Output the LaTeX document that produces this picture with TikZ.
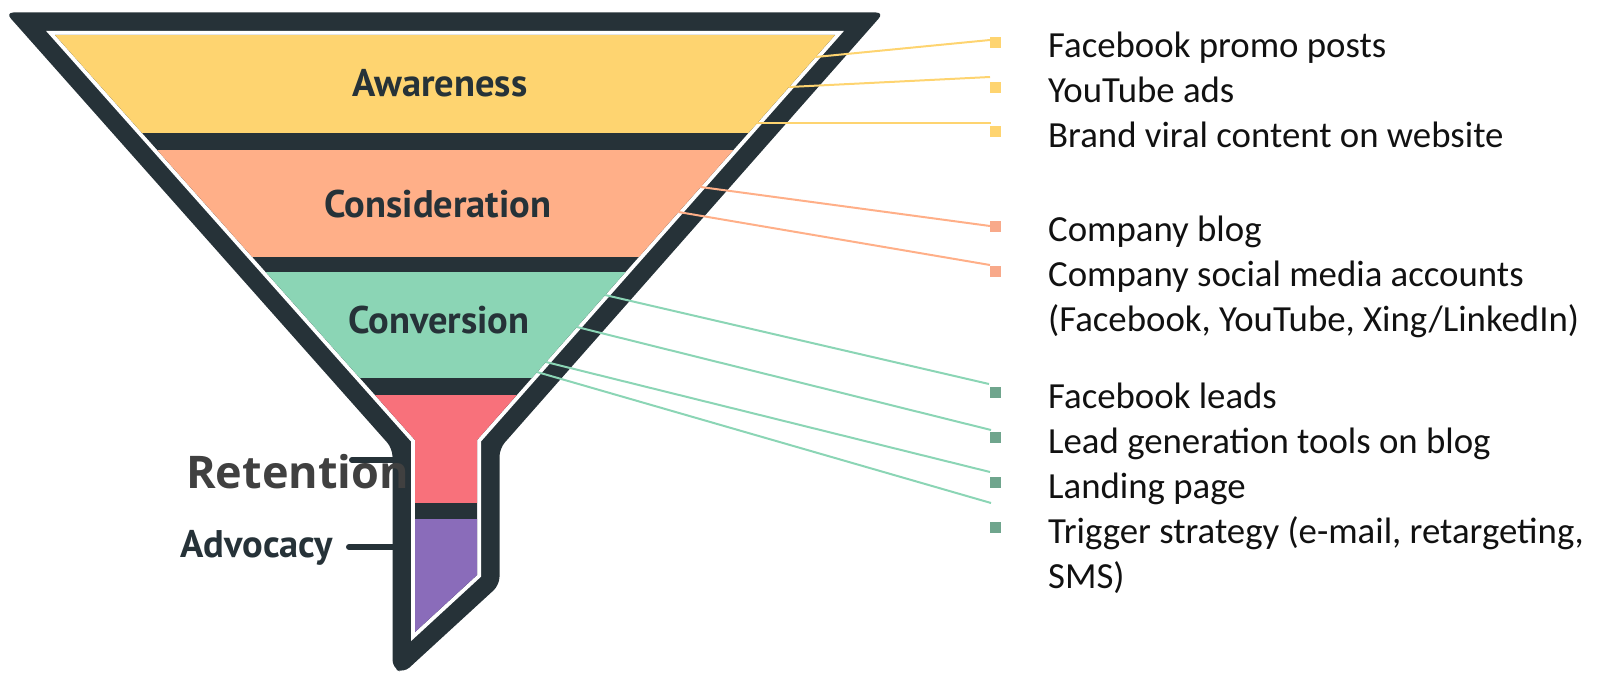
\documentclass[tikz,border=0pt]{standalone}
\usepackage{fontspec}
\setmainfont{Carlito}
\newfontfamily\stagefont{PT Sans}
\newfontfamily\retfont{Open Sans}
\definecolor{darkc}{HTML}{263238}
\definecolor{yellowc}{HTML}{FED470}
\definecolor{orangec}{HTML}{FFAF88}
\definecolor{greenc}{HTML}{8BD5B5}
\definecolor{redc}{HTML}{F8717B}
\definecolor{purplec}{HTML}{8A6CBA}
\definecolor{obullet}{HTML}{F8A98A}
\definecolor{gbullet}{HTML}{6FA58D}
\definecolor{retc}{HTML}{404040}
\definecolor{textc}{HTML}{111111}
\begin{document}
\begin{tikzpicture}[x=1pt,y=-1pt,
  stagelabel/.style={font=\stagefont\bfseries\fontsize{38.5}{38.5}\selectfont, text=darkc, inner sep=0pt, anchor=base},
  item/.style={font=\fontsize{36.8}{45}\selectfont, text=textc, anchor=base west, inner sep=0pt},
  bullet/.style={rectangle, minimum size=11pt, inner sep=0pt},
  conn/.style={line width=2pt},
  tick/.style={darkc, line width=6pt, line cap=round}]
\useasboundingbox (0,0) rectangle (1598,674);

% short label ticks (behind funnel)
\coordinate (rt0) at (352,460); \coordinate (rt1) at (400,460);
\coordinate (ad0) at (349,547); \coordinate (ad1) at (400,547);
\draw[tick] (rt0) -- (rt1);
\draw[tick] (ad0) -- (ad1);

% funnel outline
\fill[darkc, rounded corners=8pt] (5.5,12.5) -- (884,12.5) -- (499.5,448.5) -- (499.5,584.9) -- (403.5,673) -- (392.5,668) -- (392.5,448.5) -- cycle;
\fill[white] (46.1,31) -- (843.9,31) -- (481,441.5) -- (481,576.7) -- (411,641.1) -- (411,441.5) -- cycle;
\fill[darkc] (55,35) -- (835,35) -- (477,440) -- (477,575) -- (415,632) -- (415,440) -- cycle;
\begin{scope}
\clip (55,35) -- (835,35) -- (477,440) -- (477,575) -- (415,632) -- (415,440) -- cycle;
\fill[yellowc] (0,35) rectangle (900,133);
\fill[orangec] (0,150) rectangle (900,257);
\fill[greenc] (0,272) rectangle (900,378);
\fill[redc] (0,395) rectangle (900,503);
\fill[purplec] (0,519) rectangle (900,680);
\end{scope}

% stage labels
\node[stagelabel] (aw) at (440,97) {Awareness};
\node[stagelabel] (co) at (438,217) {Consideration};
\node[stagelabel] (cv) at (439,333) {Conversion};
\node[stagelabel, anchor=base west] (ad) at (180,557) {Advocacy};

% bullets
\node[bullet, fill=yellowc] (b1) at (995.5,42.5) {};
\node[bullet, fill=yellowc] (b2) at (995.5,87.5) {};
\node[bullet, fill=yellowc] (b3) at (995.5,132) {};
\node[bullet, fill=obullet] (b4) at (995.5,226.5) {};
\node[bullet, fill=obullet] (b5) at (995.5,271.5) {};
\node[bullet, fill=gbullet] (b6) at (995.5,392.5) {};
\node[bullet, fill=gbullet] (b7) at (995.5,437.5) {};
\node[bullet, fill=gbullet] (b8) at (995.5,482.5) {};
\node[bullet, fill=gbullet] (b9) at (995.5,527.5) {};

% connector ends
\coordinate (s1) at (815.6,57);  \coordinate (e1) at (990,40);
\coordinate (s2) at (789,87);    \coordinate (e2) at (990,77);
\coordinate (s3) at (757.2,123); \coordinate (e3) at (991,123);
\coordinate (s4) at (700.6,187); \coordinate (e4) at (990,226);
\coordinate (s5) at (678.5,212); \coordinate (e5) at (990,265);
\coordinate (s6) at (605,295);   \coordinate (e6) at (989,384);
\coordinate (s7) at (576.9,327); \coordinate (e7) at (991,430);
\coordinate (s8) at (545.9,362); \coordinate (e8) at (990,472);
\coordinate (s9) at (537,372);   \coordinate (e9) at (991,503);
\draw[conn, yellowc] (s1) -- (e1);
\draw[conn, yellowc] (s2) -- (e2);
\draw[conn, yellowc] (s3) -- (e3);
\draw[conn, orangec] (s4) -- (e4);
\draw[conn, orangec] (s5) -- (e5);
\draw[conn, greenc] (s6) -- (e6);
\draw[conn, greenc] (s7) -- (e7);
\draw[conn, greenc] (s8) -- (e8);
\draw[conn, greenc] (s9) -- (e9);

% list texts
\node[item] (t1) at (1048,58) {Facebook promo posts};
\node[item] (t2) at (1048,103) {YouTube ads};
\node[item] (t3) at (1048,148) {Brand viral content on website};
\node[item] (t4) at (1048,241.5) {Company blog};
\node[item] (t5) at (1048,286.5) {Company social media accounts};
\node[item] (t5b) at (1048,331.5) {(Facebook, YouTube, Xing/LinkedIn)};
\node[item] (t6) at (1048,408) {Facebook leads};
\node[item] (t7) at (1048,453) {Lead generation tools on blog};
\node[item] (t8) at (1048,498) {Landing page};
\node[item] (t9) at (1048,543) {Trigger strategy (e-mail, retargeting,};
\node[item] (t9b) at (1048,588) {SMS)};

% retention label on top
\node[font=\retfont\bfseries\fontsize{45}{45}\selectfont, text=retc, inner sep=0pt, anchor=base west] (re) at (186,488) {Retention};
\end{tikzpicture}
\end{document}
